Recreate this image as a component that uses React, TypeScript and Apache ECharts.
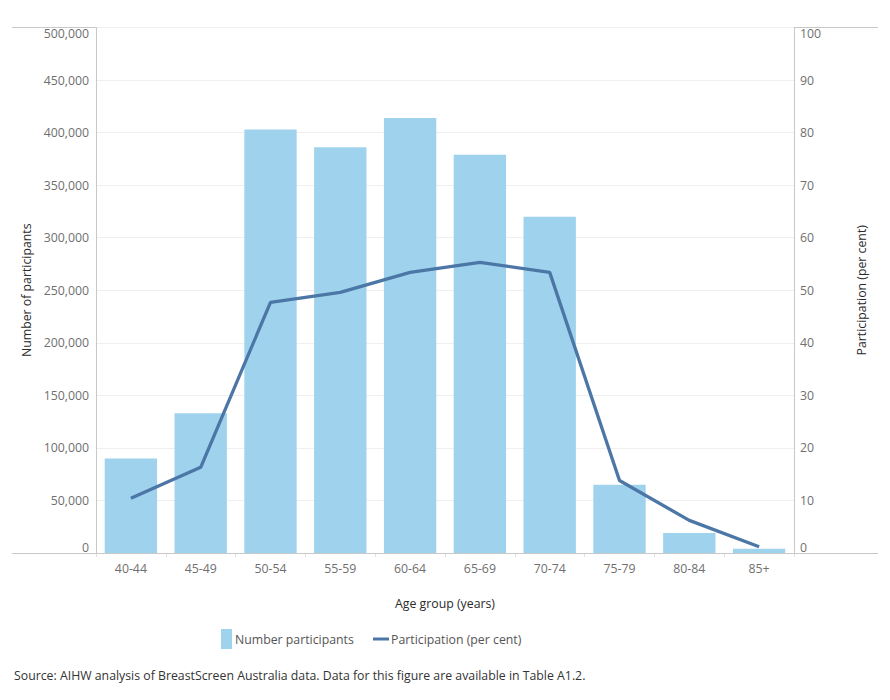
import React, { useEffect, useRef } from "react";
import * as echarts from "echarts";

const categories = ["40-44", "45-49", "50-54", "55-59", "60-64", "65-69", "70-74", "75-79", "80-84", "85+"];
const participants = [90000, 133000, 403000, 386000, 414000, 379000, 320000, 65000, 19000, 4000];
const participationRate = [10.4, 16.3, 47.7, 49.6, 53.4, 55.3, 53.4, 13.8, 6.2, 1.2];

const FONT = "'Open Sans', 'Noto Sans', sans-serif";
const BAR_COLOR = "#9fd3ed";
const LINE_COLOR = "#4b76a6";
const AXIS_GREY = "#c8c8c8";
const LABEL_GREY = "#6f6f6f";
const TITLE_COLOR = "#2a2a2a";

export default function App() {
  const ref = useRef<HTMLDivElement>(null);
  useEffect(() => {
    if (!ref.current) return;
    const chart = echarts.init(ref.current, undefined, { renderer: "svg" });
    chart.setOption({
      animation: false,
      textStyle: { fontFamily: FONT },
      grid: { left: 88, top: 19.5, width: 698, height: 525.5, containLabel: false },
      legend: [
        {
          data: [{ name: "Number participants", icon: "rect" }],
          left: 213,
          top: 621,
          padding: 0,
          itemWidth: 11,
          itemHeight: 20,
          itemGap: 4,
          textStyle: { fontFamily: FONT, fontSize: 12.3, color: "#555", padding: [0, 0, 0, -2] },
        },
        {
          data: [{ name: "Participation (per cent)", icon: "rect" }],
          left: 365,
          top: 625,
          padding: 0,
          itemWidth: 16,
          itemHeight: 3,
          textStyle: { fontFamily: FONT, fontSize: 12.3, color: "#555", padding: [0, 0, 0, -3] },
        },
      ],
      xAxis: {
        type: "category",
        data: categories,
        name: "Age group (years)",
        nameLocation: "middle",
        nameGap: 44,
        nameTextStyle: { fontFamily: FONT, fontSize: 12.3, color: TITLE_COLOR, fontWeight: 500 },
        axisLine: { show: false },
        axisTick: { show: true, length: 4, lineStyle: { color: "#e0e0e0" } },
        axisLabel: { fontFamily: FONT, fontSize: 12.3, color: LABEL_GREY, margin: 9 },
      },
      yAxis: [
        {
          type: "value",
          min: 0,
          max: 500000,
          interval: 50000,
          name: "Number of participants",
          nameLocation: "middle",
          nameGap: 60,
          nameTextStyle: { fontFamily: FONT, fontSize: 12.3, color: TITLE_COLOR, fontWeight: 500 },
          axisLine: { show: true, lineStyle: { color: AXIS_GREY } },
          axisTick: { show: false },
          splitLine: { show: true, lineStyle: { color: "#efefef" } },
          axisLabel: {
            fontFamily: FONT,
            fontSize: 12.3,
            color: LABEL_GREY,
            margin: 7,
            formatter: (v: number) => v.toLocaleString("en-US"),
            verticalAlignMinLabel: "bottom",
            verticalAlignMaxLabel: "top",
          },
        },
        {
          type: "value",
          min: 0,
          max: 100,
          interval: 10,
          name: "Participation (per cent)",
          nameLocation: "middle",
          nameGap: 61,
          nameTextStyle: { fontFamily: FONT, fontSize: 12.3, color: TITLE_COLOR, fontWeight: 500 },
          axisLine: { show: true, lineStyle: { color: AXIS_GREY } },
          axisTick: { show: false },
          splitLine: { show: false },
          axisLabel: {
            fontFamily: FONT,
            fontSize: 12.3,
            color: LABEL_GREY,
            margin: 6,
            verticalAlignMinLabel: "bottom",
            verticalAlignMaxLabel: "top",
          },
        },
      ],
      series: [
        {
          name: "Number participants",
          type: "bar",
          data: participants,
          yAxisIndex: 0,
          barCategoryGap: "25%",
          itemStyle: { color: BAR_COLOR },
        },
        {
          name: "Participation (per cent)",
          type: "line",
          data: participationRate,
          yAxisIndex: 1,
          symbol: "none",
          lineStyle: { color: LINE_COLOR, width: 3.3 },
          itemStyle: { color: LINE_COLOR },
          z: 5,
        },
      ],
      graphic: [
        {
          type: "line",
          shape: { x1: 4, y1: 19.5, x2: 870, y2: 19.5 },
          style: { stroke: AXIS_GREY, lineWidth: 1 },
          silent: true,
        },
        {
          type: "line",
          shape: { x1: 4, y1: 545.5, x2: 870, y2: 545.5 },
          style: { stroke: AXIS_GREY, lineWidth: 1 },
          silent: true,
          z: 10,
        },
        {
          type: "text",
          left: 6,
          top: 661,
          style: {
            text: "Source: AIHW analysis of BreastScreen Australia data. Data for this figure are available in Table A1.2.",
            font: `12.3px ${FONT}`,
            fill: "#333",
          },
        },
      ],
    });
    return () => chart.dispose();
  }, []);
  return <div ref={ref} style={{ width: 874, height: 684 }} />;
}
